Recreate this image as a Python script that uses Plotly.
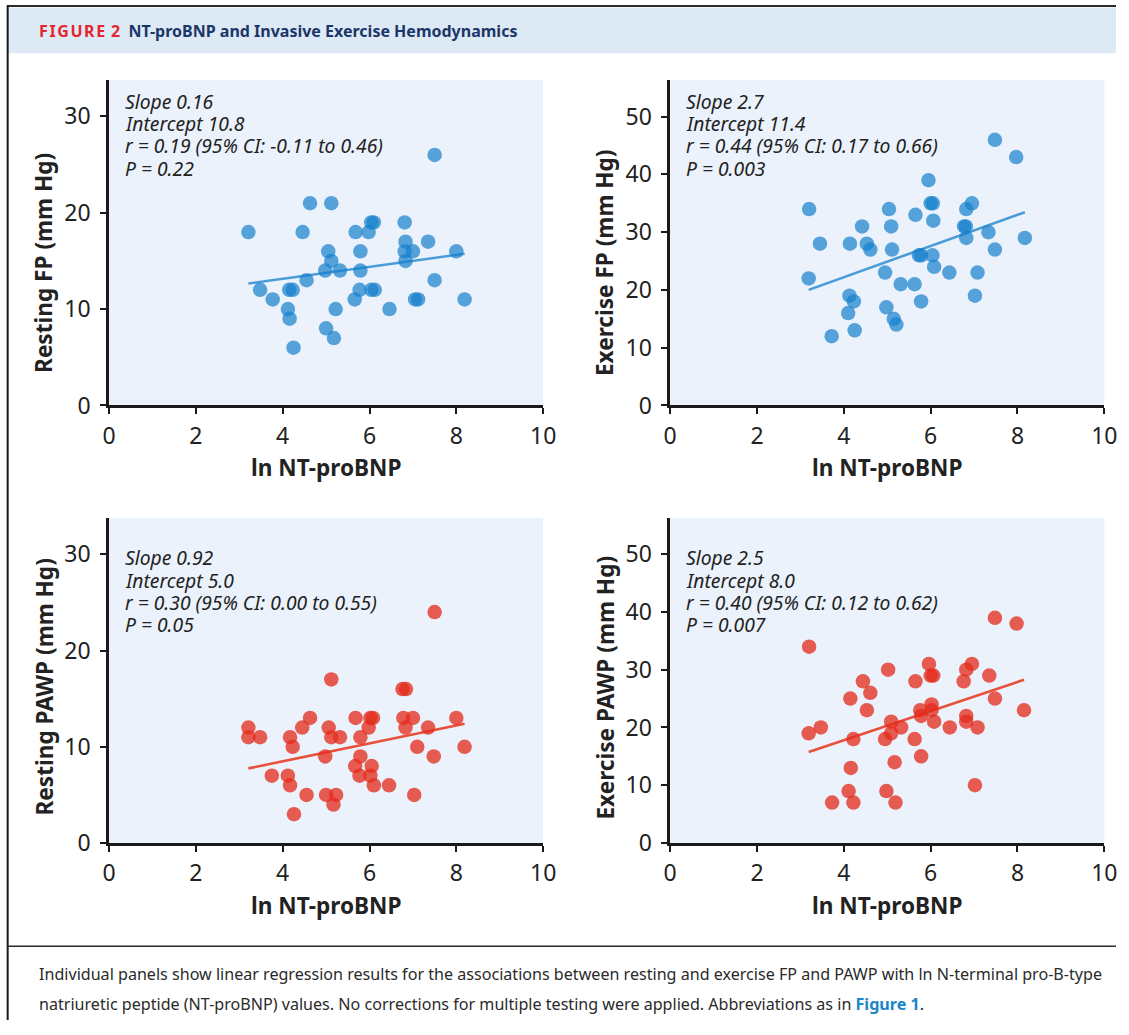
import plotly.graph_objects as go

# ---------------- data ----------------
rest_fp_x = [7.50, 3.21, 4.63, 5.12, 4.46, 5.68, 5.98, 6.04, 6.10, 6.81, 6.83, 7.35, 6.81, 7.00,
             8.00, 6.83, 5.05, 5.12, 5.79, 4.98, 5.32, 5.79, 4.55, 7.50, 3.48, 4.15, 4.23, 5.77,
             6.04, 6.12, 3.77, 5.66, 7.05, 7.12, 8.19, 4.12, 5.22, 6.46, 4.16, 5.00, 5.18, 4.25]
rest_fp_y = [26, 18, 21, 21, 18, 18, 18, 19, 19, 19, 17, 17, 16, 16,
             16, 15, 16, 15, 16, 14, 14, 14, 13, 13, 12, 12, 12, 12,
             12, 12, 11, 11, 11, 11, 11, 10, 10, 10, 9, 8, 7, 6]

ex_fp_x = [7.48, 7.97, 5.95, 3.20, 5.04, 6.00, 6.05, 6.95, 6.82, 5.65, 6.06, 4.42, 5.09, 6.77,
           6.81, 7.33, 3.45, 4.14, 4.53, 4.61, 5.11, 6.82, 8.17, 7.48, 5.73, 5.78, 6.04, 6.08,
           4.95, 6.43, 7.08, 3.19, 5.31, 5.63, 4.13, 4.23, 5.78, 7.02, 4.10, 4.98, 5.15, 5.21,
           4.25, 3.72]
ex_fp_y = [46, 43, 39, 34, 34, 35, 35, 35, 34, 33, 32, 31, 31, 31,
           31, 30, 28, 28, 28, 27, 27, 29, 29, 27, 26, 26, 26, 24,
           23, 23, 23, 22, 21, 21, 19, 18, 18, 19, 16, 17, 15, 14,
           13, 12]

rest_pawp_x = [7.50, 5.12, 6.76, 6.84, 3.21, 3.21, 3.48, 4.63, 4.45, 5.06, 4.17, 5.12, 5.32, 4.23,
               5.68, 6.02, 6.08, 5.98, 5.79, 6.78, 7.00, 6.83, 7.35, 8.00, 7.10, 8.19, 4.98, 5.79,
               7.48, 5.67, 6.05, 3.75, 4.12, 5.77, 6.02, 4.17, 6.10, 6.45, 4.55, 5.00, 5.23, 7.03,
               5.17, 4.26]
rest_pawp_y = [24, 17, 16, 16, 12, 11, 11, 13, 12, 12, 11, 11, 11, 10,
               13, 13, 13, 12, 11, 13, 13, 12, 12, 13, 10, 10, 9, 9,
               9, 8, 8, 7, 7, 7, 7, 6, 6, 6, 5, 5, 5, 5,
               4, 3]

ex_pawp_x = [7.48, 7.98, 3.20, 5.02, 5.96, 6.00, 6.06, 6.95, 6.82, 7.35, 6.76, 5.65, 4.44, 4.61,
             4.15, 7.48, 4.53, 6.02, 6.02, 5.76, 5.78, 5.09, 6.08, 6.82, 6.82, 8.15, 3.47, 5.32,
             6.44, 7.08, 3.19, 4.22, 5.09, 4.95, 5.63, 5.78, 5.17, 4.16, 7.02, 4.11, 4.98, 3.73,
             4.22, 5.19]
ex_pawp_y = [39, 38, 34, 30, 31, 29, 29, 31, 30, 29, 28, 28, 28, 26,
             25, 25, 23, 24, 23, 23, 22, 21, 21, 22, 21, 23, 20, 20,
             20, 20, 19, 18, 19, 18, 18, 15, 14, 13, 10, 9, 9, 7,
             7, 7]

# regression lines as drawn in the figure (slope, intercept)
fit_slope = [0.62, 2.7, 0.93, 2.52]
fit_intercept = [10.66, 11.4, 4.77, 7.73]

y_titles = ["Resting FP (mm Hg)", "Exercise FP (mm Hg)",
            "Resting PAWP (mm Hg)", "Exercise PAWP (mm Hg)"]
x_title = "ln NT-proBNP"
stats_text = [
    ["Slope 0.16", "Intercept 10.8", "r = 0.19 (95% CI: \u22120.11 to 0.46)", "P = 0.22"],
    ["Slope 2.7", "Intercept 11.4", "r = 0.44 (95% CI: 0.17 to 0.66)", "P = 0.003"],
    ["Slope 0.92", "Intercept 5.0", "r = 0.30 (95% CI: 0.00 to 0.55)", "P = 0.05"],
    ["Slope 2.5", "Intercept 8.0", "r = 0.40 (95% CI: 0.12 to 0.62)", "P = 0.007"],
]
caption_lines = [
    "Individual panels show linear regression results for the associations between resting and exercise FP and PAWP with ln N-terminal pro-B-type",
    "natriuretic peptide (NT-proBNP) values. No corrections for multiple testing were applied. Abbreviations as in "
    "<b><span style='color:#1a86c8'>Figure 1</span></b>.",
]
x_ticks = [0, 2, 4, 6, 8, 10]
y_ticks = [[0, 10, 20, 30], [0, 10, 20, 30, 40, 50], [0, 10, 20, 30], [0, 10, 20, 30, 40, 50]]
y_max = [33.75, 56.3, 33.8, 56.3]

# ---------------- layout geometry ----------------
W, H = 1129, 1035
# the photographed page shows the figure slightly reduced and offset;
# positions below are given in photographed pixels and mapped back here
S, OX, OY = 0.982, 8.0, 2.0
def px_x(p): return max(0.0, min(1.0, ((p - OX) / S) / W))
def px_y(p): return max(0.0, min(1.0, 1 - ((p - OY) / S) / H))

panels_px = [  # (left, right, top, bottom) in photographed pixels
    (110, 544, 82, 406),
    (671, 1105, 82, 406),
    (110, 544, 518, 842),
    (671, 1105, 518, 842),
]
ytitle_center = [264, 264, 687, 687]
stats_first = [21, 21, 40, 40]   # px below panel top of first stats line centre
stats_step = 22.2

BLUE = "rgba(22,128,204,0.70)"
RED = "rgba(228,44,28,0.76)"
colors = [BLUE, BLUE, RED, RED]
line_colors = ["#4a9cd8", "#4a9cd8", "#e8503c", "#e8503c"]

xs = [rest_fp_x, ex_fp_x, rest_pawp_x, ex_pawp_x]
ys = [rest_fp_y, ex_fp_y, rest_pawp_y, ex_pawp_y]

fig = go.Figure()
TICK_FONT = dict(family="Noto Sans, Open Sans, sans-serif", size=23, color="#222222")
TITLE_FONT = dict(family="Noto Sans, Open Sans, sans-serif", size=22.6, color="#222222")
STAT_FONT = dict(family="Noto Sans, Open Sans, sans-serif", size=19.3, color="#222222")

annotations = []
for i in range(4):
    ax = "" if i == 0 else str(i + 1)
    xa, ya = "x" + ax, "y" + ax
    xmin, xmax = min(xs[i]), max(xs[i])
    fig.add_trace(go.Scatter(
        x=[xmin, xmax],
        y=[fit_slope[i] * xmin + fit_intercept[i], fit_slope[i] * xmax + fit_intercept[i]],
        mode="lines", line=dict(color=line_colors[i], width=2.6),
        xaxis=xa, yaxis=ya, showlegend=False, hoverinfo="skip"))
    fig.add_trace(go.Scatter(
        x=xs[i], y=ys[i], mode="markers",
        marker=dict(size=14.5, color=colors[i], line=dict(width=0)),
        xaxis=xa, yaxis=ya, showlegend=False))

    l, r, t, b = panels_px[i]
    axis_common = dict(showline=True, linecolor="#1a1a1a", linewidth=2.5, mirror=False,
                       ticks="outside", ticklen=6, tickwidth=2.2, tickcolor="#1a1a1a",
                       showgrid=False, zeroline=False, tickfont=TICK_FONT)
    fig.layout["xaxis" + ax] = dict(domain=[px_x(l), px_x(r)], range=[0, 10],
                                    tickvals=x_ticks, anchor=ya, ticklabelstandoff=2,
                                    **axis_common)
    fig.layout["yaxis" + ax] = dict(domain=[px_y(b), px_y(t)], range=[0, y_max[i]],
                                    tickvals=y_ticks[i], anchor=xa, ticklabelstandoff=5,
                                    **axis_common)
    # axis titles
    annotations.append(dict(text="<b>" + x_title + "</b>", xref=xa + " domain", yref="paper",
                            x=0.5, y=px_y(b + 62), xanchor="center", yanchor="middle",
                            showarrow=False, font=TITLE_FONT))
    annotations.append(dict(text="<b>" + y_titles[i] + "</b>", xref="paper", yref="paper",
                            x=px_x(l - 65), y=px_y(ytitle_center[i]), xanchor="center",
                            yanchor="middle", textangle=-90, showarrow=False, font=TITLE_FONT))
    # stats block, one annotation per line
    for k, line in enumerate(stats_text[i]):
        off = stats_first[i] + k * stats_step
        annotations.append(dict(text="<i>" + line + "</i>",
                                xref="paper", yref="paper",
                                x=px_x(l + 14), y=px_y(t + off), xanchor="left", yanchor="middle",
                                align="left", showarrow=False, font=STAT_FONT))

# header
annotations.append(dict(
    text="<b><span style='color:#e3262d'>F\u200aI\u200aG\u200aU\u200aR\u200aE\u200a 2</span></b>  "
         "<b>NT-proBNP and Invasive Exercise Hemodynamics</b>",
    xref="paper", yref="paper", x=px_x(38), y=px_y(33), xanchor="left", yanchor="middle",
    showarrow=False, font=dict(family="Noto Sans, Open Sans, sans-serif", size=16, color="#1b3768")))

# caption
for k, line in enumerate(caption_lines):
    annotations.append(dict(
        text=line, xref="paper", yref="paper", x=px_x(38), y=px_y(973 + 29 * k),
        xanchor="left", yanchor="middle", align="left", showarrow=False,
        font=dict(family="Noto Sans, Open Sans, sans-serif", size=16.1, color="#2a2a2a")))

shapes = [
    # header band
    dict(type="rect", xref="paper", yref="paper", x0=px_x(8), x1=1, y0=px_y(55), y1=px_y(9.5),
         fillcolor="#dde9f5", line=dict(width=0), layer="below"),
    # top border
    dict(type="line", xref="paper", yref="paper", x0=0, x1=1, y0=px_y(8), y1=px_y(8),
         line=dict(color="#2b2b2b", width=2)),
    # left border
    dict(type="line", xref="paper", yref="paper", x0=0.0006, x1=0.0006, y0=0, y1=px_y(7),
         line=dict(color="#1a1a1a", width=2)),
    # caption separator
    dict(type="line", xref="paper", yref="paper", x0=0, x1=1, y0=px_y(945), y1=px_y(945),
         line=dict(color="#2b2b2b", width=1.5)),
]

fig.update_layout(width=W, height=H, margin=dict(l=0, r=0, t=0, b=0),
                  paper_bgcolor="white", plot_bgcolor="#ebf2fb",
                  annotations=annotations, shapes=shapes, showlegend=False)

fig.write_html("out.html")
